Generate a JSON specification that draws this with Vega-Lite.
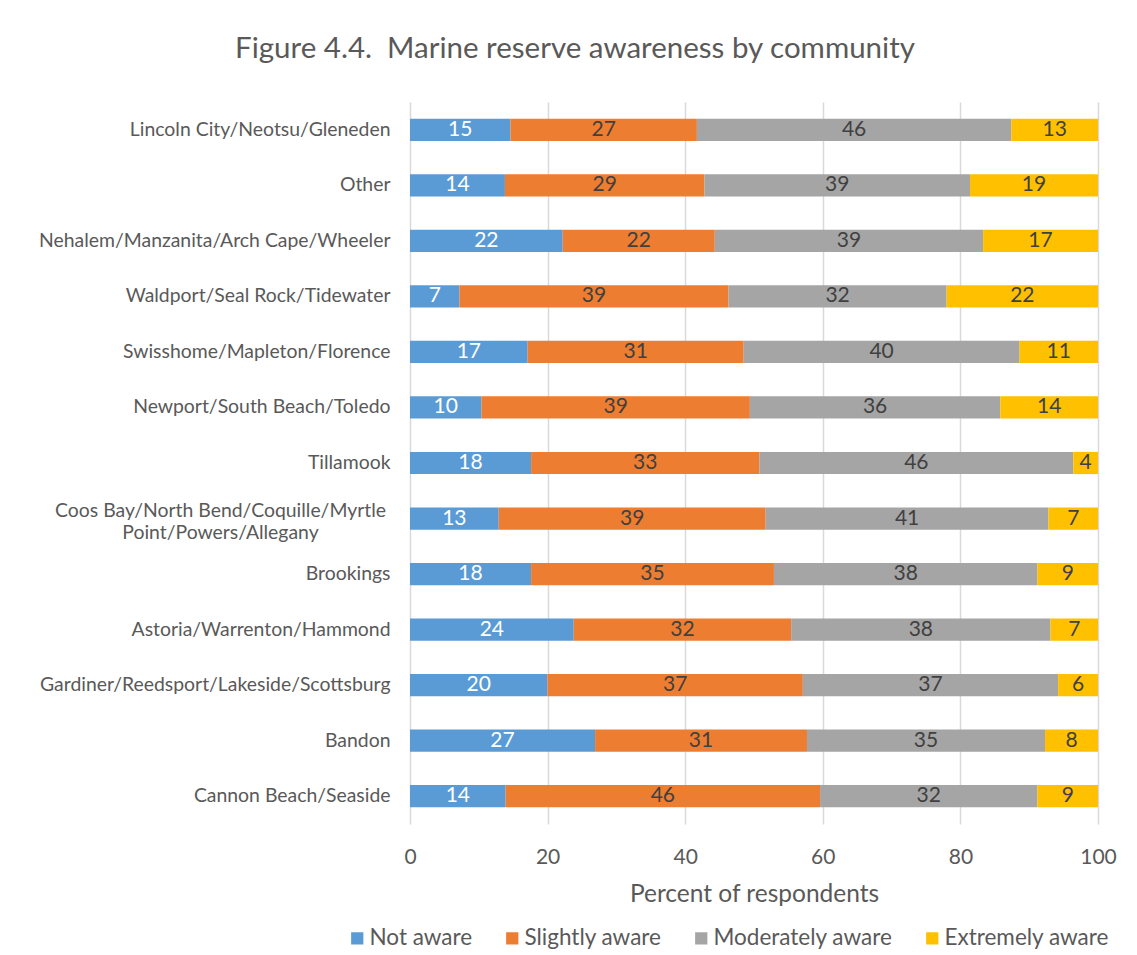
{
  "$schema": "https://vega.github.io/schema/vega-lite/v6.json",
  "width": 688,
  "height": 722,
  "autosize": {"type": "none"},
  "padding": {"left": 410, "top": 102, "right": 39, "bottom": 131},
  "background": "white",
  "title": {
    "text": "Figure 4.4.\u00a0 Marine reserve awareness by community",
    "fontSize": 29.5,
    "font": "Lato",
    "fontWeight": "normal",
    "color": "#595959",
    "anchor": "middle",
    "dx": -179,
    "offset": 38
  },
  "config": {
    "font": "Lato",
    "view": {"stroke": null}
  },
  "data": {
    "values": [
      {"community": "Lincoln City/Neotsu/Gleneden", "level": "Not aware", "rank": 1, "v": 14.6},
      {"community": "Lincoln City/Neotsu/Gleneden", "level": "Slightly aware", "rank": 2, "v": 27.1},
      {"community": "Lincoln City/Neotsu/Gleneden", "level": "Moderately aware", "rank": 3, "v": 45.7},
      {"community": "Lincoln City/Neotsu/Gleneden", "level": "Extremely aware", "rank": 4, "v": 12.6},
      {"community": "Other", "level": "Not aware", "rank": 1, "v": 13.8},
      {"community": "Other", "level": "Slightly aware", "rank": 2, "v": 29.0},
      {"community": "Other", "level": "Moderately aware", "rank": 3, "v": 38.6},
      {"community": "Other", "level": "Extremely aware", "rank": 4, "v": 18.6},
      {"community": "Nehalem/Manzanita/Arch Cape/Wheeler", "level": "Not aware", "rank": 1, "v": 22.2},
      {"community": "Nehalem/Manzanita/Arch Cape/Wheeler", "level": "Slightly aware", "rank": 2, "v": 22.1},
      {"community": "Nehalem/Manzanita/Arch Cape/Wheeler", "level": "Moderately aware", "rank": 3, "v": 39.0},
      {"community": "Nehalem/Manzanita/Arch Cape/Wheeler", "level": "Extremely aware", "rank": 4, "v": 16.7},
      {"community": "Waldport/Seal Rock/Tidewater", "level": "Not aware", "rank": 1, "v": 7.2},
      {"community": "Waldport/Seal Rock/Tidewater", "level": "Slightly aware", "rank": 2, "v": 39.1},
      {"community": "Waldport/Seal Rock/Tidewater", "level": "Moderately aware", "rank": 3, "v": 31.7},
      {"community": "Waldport/Seal Rock/Tidewater", "level": "Extremely aware", "rank": 4, "v": 22.0},
      {"community": "Swisshome/Mapleton/Florence", "level": "Not aware", "rank": 1, "v": 17.1},
      {"community": "Swisshome/Mapleton/Florence", "level": "Slightly aware", "rank": 2, "v": 31.4},
      {"community": "Swisshome/Mapleton/Florence", "level": "Moderately aware", "rank": 3, "v": 40.1},
      {"community": "Swisshome/Mapleton/Florence", "level": "Extremely aware", "rank": 4, "v": 11.4},
      {"community": "Newport/South Beach/Toledo", "level": "Not aware", "rank": 1, "v": 10.4},
      {"community": "Newport/South Beach/Toledo", "level": "Slightly aware", "rank": 2, "v": 39.0},
      {"community": "Newport/South Beach/Toledo", "level": "Moderately aware", "rank": 3, "v": 36.4},
      {"community": "Newport/South Beach/Toledo", "level": "Extremely aware", "rank": 4, "v": 14.2},
      {"community": "Tillamook", "level": "Not aware", "rank": 1, "v": 17.6},
      {"community": "Tillamook", "level": "Slightly aware", "rank": 2, "v": 33.2},
      {"community": "Tillamook", "level": "Moderately aware", "rank": 3, "v": 45.6},
      {"community": "Tillamook", "level": "Extremely aware", "rank": 4, "v": 3.6},
      {"community": "Coos Bay/North Bend/Coquille/Myrtle Point/Powers/Allegany", "level": "Not aware", "rank": 1, "v": 12.9},
      {"community": "Coos Bay/North Bend/Coquille/Myrtle Point/Powers/Allegany", "level": "Slightly aware", "rank": 2, "v": 38.8},
      {"community": "Coos Bay/North Bend/Coquille/Myrtle Point/Powers/Allegany", "level": "Moderately aware", "rank": 3, "v": 41.1},
      {"community": "Coos Bay/North Bend/Coquille/Myrtle Point/Powers/Allegany", "level": "Extremely aware", "rank": 4, "v": 7.2},
      {"community": "Brookings", "level": "Not aware", "rank": 1, "v": 17.6},
      {"community": "Brookings", "level": "Slightly aware", "rank": 2, "v": 35.3},
      {"community": "Brookings", "level": "Moderately aware", "rank": 3, "v": 38.3},
      {"community": "Brookings", "level": "Extremely aware", "rank": 4, "v": 8.8},
      {"community": "Astoria/Warrenton/Hammond", "level": "Not aware", "rank": 1, "v": 23.8},
      {"community": "Astoria/Warrenton/Hammond", "level": "Slightly aware", "rank": 2, "v": 31.6},
      {"community": "Astoria/Warrenton/Hammond", "level": "Moderately aware", "rank": 3, "v": 37.7},
      {"community": "Astoria/Warrenton/Hammond", "level": "Extremely aware", "rank": 4, "v": 6.9},
      {"community": "Gardiner/Reedsport/Lakeside/Scottsburg", "level": "Not aware", "rank": 1, "v": 20.0},
      {"community": "Gardiner/Reedsport/Lakeside/Scottsburg", "level": "Slightly aware", "rank": 2, "v": 37.1},
      {"community": "Gardiner/Reedsport/Lakeside/Scottsburg", "level": "Moderately aware", "rank": 3, "v": 37.1},
      {"community": "Gardiner/Reedsport/Lakeside/Scottsburg", "level": "Extremely aware", "rank": 4, "v": 5.8},
      {"community": "Bandon", "level": "Not aware", "rank": 1, "v": 26.9},
      {"community": "Bandon", "level": "Slightly aware", "rank": 2, "v": 30.8},
      {"community": "Bandon", "level": "Moderately aware", "rank": 3, "v": 34.6},
      {"community": "Bandon", "level": "Extremely aware", "rank": 4, "v": 7.7},
      {"community": "Cannon Beach/Seaside", "level": "Not aware", "rank": 1, "v": 13.9},
      {"community": "Cannon Beach/Seaside", "level": "Slightly aware", "rank": 2, "v": 45.7},
      {"community": "Cannon Beach/Seaside", "level": "Moderately aware", "rank": 3, "v": 31.6},
      {"community": "Cannon Beach/Seaside", "level": "Extremely aware", "rank": 4, "v": 8.8}
    ]
  },
  "transform": [
    {"stack": "v", "groupby": ["community"], "sort": [{"field": "rank", "order": "ascending"}], "as": ["x0", "x1"]},
    {"calculate": "(datum.x0 + datum.x1) / 2", "as": "xm"}
  ],
  "encoding": {
    "y": {
      "field": "community",
      "type": "nominal",
      "sort": [
        "Lincoln City/Neotsu/Gleneden",
        "Other",
        "Nehalem/Manzanita/Arch Cape/Wheeler",
        "Waldport/Seal Rock/Tidewater",
        "Swisshome/Mapleton/Florence",
        "Newport/South Beach/Toledo",
        "Tillamook",
        "Coos Bay/North Bend/Coquille/Myrtle Point/Powers/Allegany",
        "Brookings",
        "Astoria/Warrenton/Hammond",
        "Gardiner/Reedsport/Lakeside/Scottsburg",
        "Bandon",
        "Cannon Beach/Seaside"
      ],
      "scale": {"paddingInner": 0.6, "paddingOuter": 0.3},
      "axis": {
        "title": null,
        "domain": false,
        "ticks": false,
        "grid": false,
        "labelFontSize": 19.4,
        "labelColor": "#595959",
        "labelPadding": {"condition": {"test": "datum.value == 'Coos Bay/North Bend/Coquille/Myrtle Point/Powers/Allegany'", "value": 190}, "value": 20},
        "labelAlign": {"condition": {"test": "datum.value == 'Coos Bay/North Bend/Coquille/Myrtle Point/Powers/Allegany'", "value": "center"}, "value": "right"},
        "labelOffset": {"condition": {"test": "datum.value == 'Coos Bay/North Bend/Coquille/Myrtle Point/Powers/Allegany'", "value": -8}, "value": 0},
        "labelLimit": 420,
        "labelLineHeight": 22,
        "labelExpr": "datum.value == 'Coos Bay/North Bend/Coquille/Myrtle Point/Powers/Allegany' ? ['Coos Bay/North Bend/Coquille/Myrtle', 'Point/Powers/Allegany'] : datum.label"
      }
    }
  },
  "layer": [
    {
      "mark": {"type": "bar"},
      "encoding": {
        "x": {
          "field": "x0",
          "type": "quantitative",
          "scale": {"domain": [0, 100], "nice": false},
          "axis": {
            "values": [0, 20, 40, 60, 80, 100],
            "grid": true,
            "gridColor": "#d9d9d9",
            "gridWidth": 1.5,
            "domain": false,
            "ticks": false,
            "labelFlush": false,
            "labelFontSize": 21,
            "labelColor": "#595959",
            "labelPadding": 22,
            "title": "Percent of respondents",
            "titleFontSize": 24.5,
            "titleFontWeight": "normal",
            "titleColor": "#595959",
            "titlePadding": 15
          }
        },
        "x2": {"field": "x1"},
        "color": {
          "field": "level",
          "type": "nominal",
          "sort": ["Not aware", "Slightly aware", "Moderately aware", "Extremely aware"],
          "scale": {
            "domain": ["Not aware", "Slightly aware", "Moderately aware", "Extremely aware"],
            "range": ["#5B9BD5", "#ED7D31", "#A5A5A5", "#FFC000"]
          },
          "legend": {
            "title": null,
            "orient": "none",
            "direction": "horizontal",
            "legendX": -64,
            "legendY": 825,
            "symbolType": "square",
            "symbolSize": 150,
            "symbolStrokeWidth": 0,
            "labelFontSize": 22.5,
            "labelColor": "#595959",
            "labelOffset": 1,
            "labelLimit": 400,
            "columnPadding": 28
          }
        }
      }
    },
    {
      "mark": {"type": "text", "fontSize": 21, "baseline": "middle", "align": "center"},
      "encoding": {
        "x": {"field": "xm", "type": "quantitative"},
        "text": {"field": "v", "type": "quantitative", "format": ".0f"},
        "color": {
          "condition": {"test": "datum.level == 'Not aware'", "value": "white"},
          "value": "#404040"
        }
      }
    }
  ]
}
